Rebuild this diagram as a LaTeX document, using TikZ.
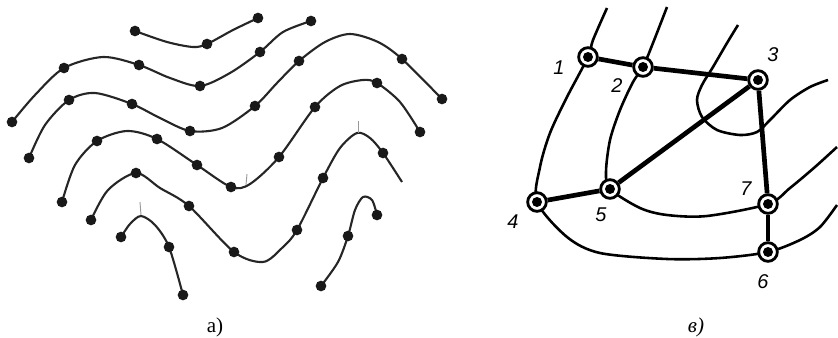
\documentclass[tikz,border=0pt]{standalone}
\usepackage{fontspec}
\usepackage{tikz}
\usetikzlibrary{positioning, backgrounds}
\newfontfamily\capfont{Liberation Serif}
\newfontfamily\numfont{Liberation Sans}

\tikzset{
  % Wavy lines of panel a)
  wave/.style={line width=1.8pt, black!85},
  wavedot/.style={fill=black!90},
  tickmark/.style={line width=0.8pt, black!40},
  % Ribs and bonds of panel b)
  rib/.style={line width=2.2pt},
  bond/.style={line width=4pt},
  joint/.style={
    circle, draw, line width=2.4pt, fill=white, minimum size=0.56cm, inner sep=0pt,
    path picture={\fill[black] (path picture bounding box.center) circle[radius=0.15cm];},
  },
  jnum/.style={font=\numfont\itshape\fontsize{17}{17}\selectfont, inner sep=0pt},
  panelcap/.style={font=\capfont\fontsize{18}{18}\selectfont, inner sep=0pt},
}

\begin{document}
\begin{tikzpicture}[x=0.03cm, y=-0.03cm]
  \useasboundingbox (0,0) rectangle (838,338);

  % Panel a) --- wavy lines with points
  \draw[wave] plot[smooth] coordinates {(135,31) (167,42) (193,47) (207,44) (233,30) (258,18)};
  \foreach \x/\y in {135/31, 207/44, 258/18}
    \fill[wavedot] (\x,\y) circle[radius=0.16cm];

  \draw[wave] plot[smooth] coordinates {(12,122) (35,95) (64,68) (103,57) (139,65) (170,78)
    (200,86) (230,73) (260,52) (283,32) (311,21)};
  \foreach \x/\y in {12/122, 64/68, 139/65, 200/86, 260/52, 311/21}
    \fill[wavedot] (\x,\y) circle[radius=0.16cm];

  \draw[wave] plot[smooth] coordinates {(29,158) (45,125) (69,100) (95,93) (132,104) (160,118)
    (190,131) (222,128) (255,106) (277,83) (299,61) (325,42) (350,34) (378,42) (402,59) (442,99)};
  \foreach \x/\y in {29/158, 69/100, 132/104, 190/131, 255/106, 299/61, 402/59, 442/99}
    \fill[wavedot] (\x,\y) circle[radius=0.16cm];

  \draw[wave] plot[smooth] coordinates {(62,202) (75,165) (97,141) (127,131) (157,139) (197,165)
    (231,187) (250,184) (279,157) (315,107) (340,86) (363,80) (377,83) (400,102) (420,132)};
  \foreach \x/\y in {62/202, 97/141, 157/139, 197/165, 231/187, 279/157, 315/107, 377/83, 420/132}
    \fill[wavedot] (\x,\y) circle[radius=0.16cm];

  \draw[wave] plot[smooth] coordinates {(91,220) (108,190) (136,173) (160,188) (189,206) (234,252)
    (263,262) (282,248) (297,230) (323,178) (340,148) (357,133) (370,138) (383,153) (402,182)};
  \foreach \x/\y in {91/220, 136/173, 189/206, 234/252, 297/230, 323/178, 383/153}
    \fill[wavedot] (\x,\y) circle[radius=0.16cm];

  \draw[wave] plot[smooth] coordinates {(121,237) (130,224) (141,216) (155,225) (169,247) (183,295)};
  \foreach \x/\y in {121/237, 169/247, 183/295}
    \fill[wavedot] (\x,\y) circle[radius=0.16cm];

  \draw[wave] plot[smooth] coordinates {(321,286) (338,262) (348,236) (355,210) (363,197) (372,200) (377,215)};
  \foreach \x/\y in {321/286, 348/236, 377/215}
    \fill[wavedot] (\x,\y) circle[radius=0.16cm];

  % small ticks
  \draw[tickmark] (247,174) -- (246,185);
  \draw[tickmark] (358,121) -- (358,133);
  \draw[tickmark] (140,202) -- (141,215);

  \node[panelcap] (capa) at (215,327) {а)};

  % Panel b) --- joints
  \node[joint] (j1) at (588,57) {};
  \node[joint] (j2) at (643,67) {};
  \node[joint] (j3) at (758,80) {};
  \node[joint] (j4) at (537,202) {};
  \node[joint] (j5) at (610,189) {};
  \node[joint] (j6) at (768,252) {};
  \node[joint] (j7) at (768,204) {};

  \node[jnum] (n1) at (559,68) {1};
  \node[jnum] (n2) at (617,86) {2};
  \node[jnum] (n3) at (773,55) {3};
  \node[jnum] (n4) at (513,222) {4};
  \node[jnum] (n5) at (601,215) {5};
  \node[jnum] (n6) at (763,282) {6};
  \node[jnum] (n7) at (746,189) {7};

  \begin{scope}[on background layer]
    % ribs
    \draw[rib] plot[smooth] coordinates {(607,8) (593,40) (j1.center) (567,97) (550,133) (540,167)
      (j4.center) (567,237) (600,253) (667,259) (720,258) (j6.center) (800,240) (820,227) (837,205)};
    \draw[rib] plot[smooth] coordinates {(667,7) (653,43) (j2.center) (633,82) (620,110) (610,140)
      (606,172) (j5.center) (640,208) (667,215) (707,216) (j7.center) (790,188) (815,167) (837,147)};
    \draw[rib] plot[smooth] coordinates {(738,25) (727,43) (713,67) (702,85) (697,100) (702,117)
      (717,130) (740,135) (757,132) (770,120) (790,100) (810,87) (828,80)};
    % bonds
    \draw[bond] (j1) -- (j2);
    \draw[bond] (j2) -- (j3);
    \draw[bond] (j3) -- (j5);
    \draw[bond] (j5) -- (j4);
    \draw[bond] (j3) -- (j7);
    \draw[bond] (j7) -- (j6);
  \end{scope}

  \node[panelcap] (capb) at (696,327) {\itshape в)};
\end{tikzpicture}
\end{document}
